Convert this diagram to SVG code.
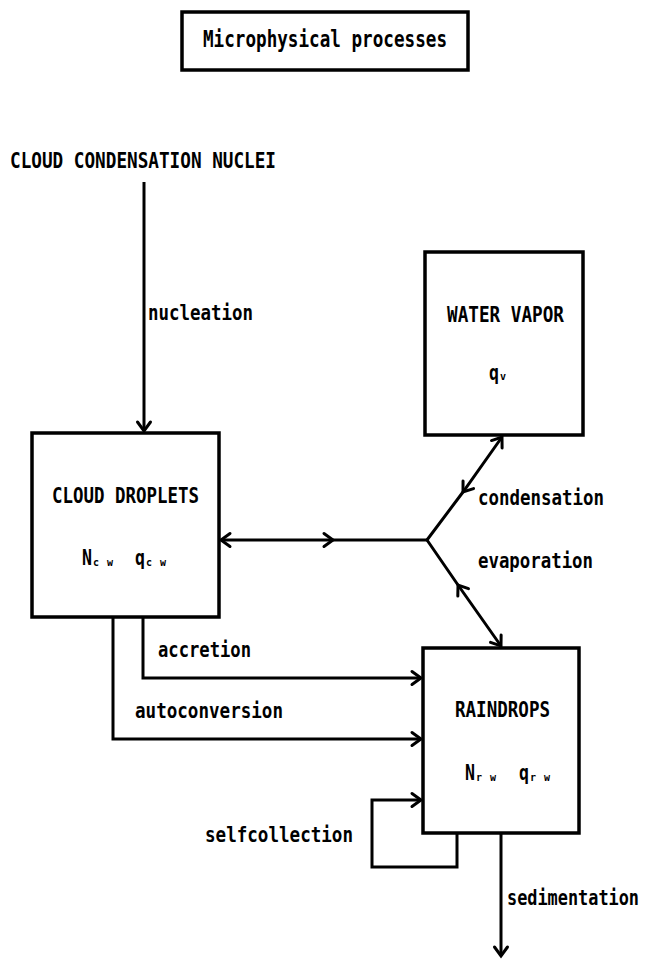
<svg xmlns="http://www.w3.org/2000/svg" width="646" height="962" viewBox="0 0 646 962">
  <style>
    .box { fill: #fff; stroke: #000; stroke-width: 3.5; }
    .ln { fill: none; stroke: #000; stroke-width: 3; stroke-linejoin: miter; }
    text { font-family: "DejaVu Sans Mono", "Liberation Mono", monospace; font-weight: bold; fill: #000; }
    .t { font-size: 21px; }
    .title { font-size: 23px; }
    .sub { font-size: 10px; }
  </style>
  <defs>
    <marker id="arr" viewBox="-12 -9 14 18" refX="0" refY="0" markerWidth="14" markerHeight="18" markerUnits="userSpaceOnUse" orient="auto-start-reverse" overflow="visible">
      <path d="M-9,-6.5 L0,0 L-9,6.5" fill="none" stroke="#000" stroke-width="3" stroke-linecap="round" stroke-linejoin="miter"/>
    </marker>
  </defs>

  <!-- title -->
  <g id="title">
    <rect class="box" x="182" y="12" width="286" height="58"/>
    <text class="title" x="203" y="47" textLength="244" lengthAdjust="spacingAndGlyphs">Microphysical processes</text>
  </g>

  <!-- source label -->
  <g id="ccn">
    <text class="t" x="10" y="168" textLength="266" lengthAdjust="spacingAndGlyphs">CLOUD CONDENSATION NUCLEI</text>
  </g>

  <g id="water-vapor">
    <rect class="box" x="425" y="252" width="158" height="183"/>
    <text class="t" x="447" y="322" textLength="117" lengthAdjust="spacingAndGlyphs">WATER VAPOR</text>
    <text class="t" x="489" y="380" textLength="10" lengthAdjust="spacingAndGlyphs">q</text>
    <text class="sub" x="500" y="380">v</text>
  </g>

  <g id="cloud-droplets">
    <rect class="box" x="32" y="433" width="187" height="184"/>
    <text class="t" x="52" y="503" textLength="147" lengthAdjust="spacingAndGlyphs">CLOUD DROPLETS</text>
    <text class="t" x="82" y="565" textLength="10" lengthAdjust="spacingAndGlyphs">N</text>
    <text class="sub" x="93" y="566" textLength="20" lengthAdjust="spacing">cw</text>
    <text class="t" x="135" y="565" textLength="10" lengthAdjust="spacingAndGlyphs">q</text>
    <text class="sub" x="146" y="566" textLength="20" lengthAdjust="spacing">cw</text>
  </g>

  <g id="raindrops">
    <rect class="box" x="423" y="648" width="156" height="185"/>
    <text class="t" x="455" y="717" textLength="95" lengthAdjust="spacingAndGlyphs">RAINDROPS</text>
    <text class="t" x="465" y="780" textLength="10" lengthAdjust="spacingAndGlyphs">N</text>
    <text class="sub" x="476" y="781" textLength="20" lengthAdjust="spacing">rw</text>
    <text class="t" x="519" y="780" textLength="10" lengthAdjust="spacingAndGlyphs">q</text>
    <text class="sub" x="530" y="781" textLength="20" lengthAdjust="spacing">rw</text>
  </g>

  <!-- connectors -->
  <g id="connectors">
    <path class="ln" d="M144,182 L144,431" marker-end="url(#arr)"/>
    <path class="ln" d="M221,540 L333,540 L427,540" marker-start="url(#arr)" marker-mid="url(#arr)"/>
    <path class="ln" d="M502,437 L463,492 L427,540" marker-start="url(#arr)" marker-mid="url(#arr)"/>
    <path class="ln" d="M501,646 L458,585 L427,540" marker-start="url(#arr)" marker-mid="url(#arr)"/>
    <path class="ln" d="M143,617 L143,678 L421,678" marker-end="url(#arr)"/>
    <path class="ln" d="M113,617 L113,739 L421,739" marker-end="url(#arr)"/>
    <path class="ln" d="M457,833 L457,867 L372,867 L372,800 L421,800" marker-end="url(#arr)"/>
    <path class="ln" d="M501,833 L501,956" marker-end="url(#arr)"/>
  </g>

  <!-- process labels -->
  <g id="labels">
    <text class="t" x="148" y="320" textLength="105" lengthAdjust="spacingAndGlyphs">nucleation</text>
    <text class="t" x="478" y="505" textLength="126" lengthAdjust="spacingAndGlyphs">condensation</text>
    <text class="t" x="478" y="568" textLength="115" lengthAdjust="spacingAndGlyphs">evaporation</text>
    <text class="t" x="158" y="657" textLength="93" lengthAdjust="spacingAndGlyphs">accretion</text>
    <text class="t" x="135" y="718" textLength="148" lengthAdjust="spacingAndGlyphs">autoconversion</text>
    <text class="t" x="205" y="842" textLength="148" lengthAdjust="spacingAndGlyphs">selfcollection</text>
    <text class="t" x="507" y="905" textLength="132" lengthAdjust="spacingAndGlyphs">sedimentation</text>
  </g>
</svg>
